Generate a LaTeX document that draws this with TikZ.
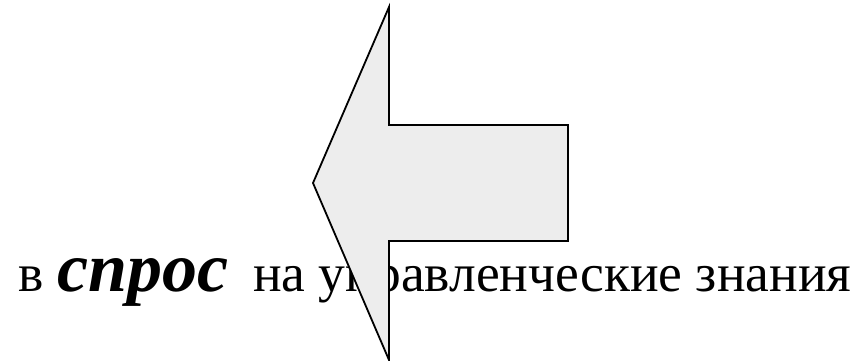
\documentclass[tikz,border=0pt]{standalone}
\usepackage{fontspec}
\setmainfont{Liberation Serif}
\usetikzlibrary{positioning}
\definecolor{arrfill}{HTML}{EDEDED}
\tikzset{
  every node/.style={inner sep=0pt, outer sep=0pt},
  txt/.style={anchor=base west, font=\fontsize{53.5}{60}\selectfont},
  big/.style={line width=1.8pt, draw=black, fill=arrfill, line join=miter},
}
\begin{document}
\begin{tikzpicture}[x=1pt, y=1pt]
\useasboundingbox (0,0) rectangle (852,360);

\node[txt] (demand) at (19,69)
  {в {\fontsize{70}{80}\selectfont\bfseries\itshape спрос }\hspace{7pt}на управленческие знания};

% the big arrow, over the text
\draw[big] (313,177) -- (389,353) -- (389,235) -- (568,235) -- (568,119)
  -- (389,119) -- (389,0) -- cycle;

\end{tikzpicture}
\end{document}
